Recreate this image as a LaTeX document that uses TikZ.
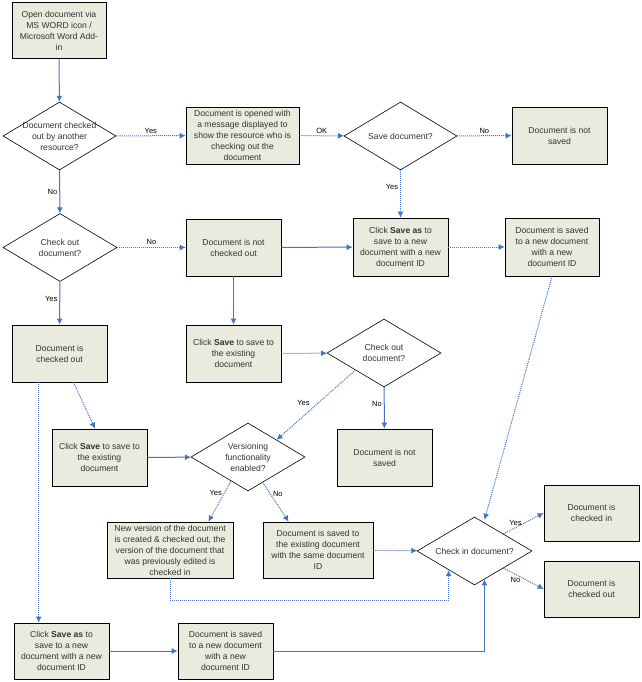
\documentclass[tikz,border=0pt]{standalone}
\usepackage{fontspec}
\setmainfont{Liberation Sans}
\usetikzlibrary{shapes.geometric,arrows.meta,calc}
\definecolor{boxfill}{HTML}{EAEADF}
\definecolor{arrowblue}{HTML}{4472C4}
\definecolor{txtgray}{HTML}{333333}
\begin{document}
\begin{tikzpicture}[x=1pt,y=-1pt,
  every node/.style={font=\fontsize{8.6}{11}\selectfont, text=txtgray},
  box/.style={rectangle, draw=black, line width=0.7pt, fill=boxfill, align=center, inner sep=1pt, minimum width=95pt, minimum height=57pt},
  dia/.style={diamond, draw=black, line width=0.6pt, fill=white, inner sep=0pt, minimum width=114pt, minimum height=68pt},
  diatext/.style={align=center, inner sep=0pt},
  conn/.style={draw=arrowblue, line width=1pt, -{Latex[length=6pt,width=6pt]}},
  dconn/.style={conn, densely dotted},
  lab/.style={font=\fontsize{7.5}{9}\selectfont, text=black, inner sep=2pt}
]
\useasboundingbox (0,0) rectangle (641,682);

% boxes
\node[box, minimum width=94pt, minimum height=56pt] (a) at (59,30.5) {Open document via\\MS WORD icon /\\Microsoft Word Add-\\in};
\node[box, minimum width=113pt] (b) at (242.5,135.5) {Document is opened with\\a message displayed to\\show the resource who is\\checking out the\\document};
\node[box] (c) at (559.5,135.5) {Document is not\\saved};
\node[box, minimum height=58pt] (d) at (400.5,247) {Click \textbf{Save as} to\\save to a new\\document with a new\\document ID};
\node[box, minimum width=94pt, minimum height=58pt] (e) at (552,247) {Document is saved\\to a new document\\with a new\\document ID};
\node[box] (f) at (233.5,247.5) {Document is not\\checked out};
\node[box] (g) at (59.5,353.5) {Document is\\checked out};
\node[box] (h) at (233.5,353.5) {Click \textbf{Save} to save to\\the existing\\document};
\node[box] (i) at (384.5,457.5) {Document is not\\saved};
\node[box] (j) at (99.5,457.5) {Click \textbf{Save} to save to\\the existing\\document};
\node[box, minimum width=126pt, minimum height=56pt] (k) at (170,550) {New version of the document\\is created \& checked out, the\\version of the document that\\was previously edited is\\checked in};
\node[box, minimum width=110pt, minimum height=56pt] (l) at (318,550) {Document is saved to\\the existing document\\with the same document\\ID};
\node[box, minimum height=56pt] (m) at (591.5,513) {Document is\\checked in};
\node[box, minimum height=56pt] (n) at (591.5,589) {Document is\\checked out};
\node[box, minimum height=56pt] (o) at (61.5,651) {Click \textbf{Save as} to\\save to a new\\document with a new\\document ID};
\node[box, minimum height=56pt] (p) at (225.5,651) {Document is saved\\to a new document\\with a new\\document ID};

% diamonds
\node[dia, minimum width=113pt] (d1) at (59.5,136) {};
\node[diatext] at (d1) {Document checked\\out by another\\resource?};
\node[dia, minimum width=113pt] (d2) at (400.5,136) {};
\node[diatext] at (d2) {Save document?};
\node[dia] (d3) at (60,247.5) {};
\node[diatext] at (d3) {Check out\\document?};
\node[dia] (d4) at (384,353) {};
\node[diatext] at (d4) {Check out\\document?};
\node[dia] (d5) at (248,457) {};
\node[diatext] at (d5) {Versioning\\functionality\\enabled?};
\node[dia, minimum width=115pt] (d6) at (474.5,551) {};
\node[diatext] at (d6) {Check in document?};

% connectors
\draw[conn] (a) -- (d1);
\draw[dconn] (d1) -- node[lab, above] {Yes} (b);
\draw[dconn] (b) -- node[lab, above] {OK} (d2);
\draw[dconn] (d2) -- node[lab, above] {No} (c);
\draw[dconn] (d2) -- node[lab, left, pos=0.35] {Yes} (d);
\draw[conn] (d1) -- node[lab, left] {No} (d3);
\draw[dconn] (d3) -- node[lab, above] {No} (f);
\draw[conn] (f) -- (d);
\draw[dconn] (d) -- (e);
\draw[conn] (f) -- (h);
\draw[conn] (d3) -- node[lab, left, pos=0.4] {Yes} (g);
\draw[dconn] (h) -- (d4);
\draw[conn] (d4) -- node[lab, left, pos=0.4] {No} (i);
\draw[dconn] (d4.south west) -- node[lab, above left, pos=0.55] {Yes} (d5.north east);
\draw[dconn] ($(g.south)+(14,0)$) -- ($(j.north)+(-4.5,0)$);
\draw[conn] (j) -- (d5);
\draw[dconn] (d5.235) -- node[lab, left, pos=0.3] {Yes} ($(k.north east)+(-25,0)$);
\draw[dconn] (d5.300) -- node[lab, right, pos=0.3] {No} ($(l.north west)+(26,0)$);
\draw[dconn] (l) -- (d6);
\draw[dconn] (k.south) -- ++(0,22) -| ($(d6.south west)+(3,2)$);
\draw[dconn] (e.south) -- ($(d6.north)+(10,3)$);
\coordinate (gs) at ($(g.south west)+(27,0)$);
\draw[dconn] (gs) -- (gs |- o.north);
\draw[conn] (o) -- (p);
\draw[conn] (p.east) -| ($(d6.south)+(10,-6)$);
\draw[dconn] (d6.north east) -- node[lab, above, pos=0.3] {Yes} (m.west);
\draw[dconn] (d6.south east) -- node[lab, below, pos=0.3] {No} (n.west);
\end{tikzpicture}
\end{document}
